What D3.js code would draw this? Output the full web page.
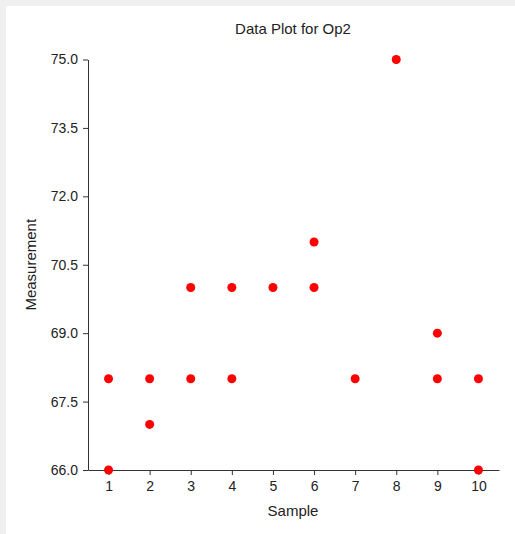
<!DOCTYPE html>
<html>
<head>
<meta charset="utf-8">
<script src="https://cdn.jsdelivr.net/npm/d3@7"></script>
<style>
  body { margin: 0; background: #f0f0f0; }
  svg { display: block; font-family: Arial, "Liberation Sans", sans-serif; }
</style>
</head>
<body>
<div id="chart"></div>
<script>
// samples and measurements (two readings for most samples)
const samples = [1, 1, 2, 2, 3, 3, 4, 4, 5, 6, 6, 7, 8, 9, 9, 10, 10];
const measurements = [68, 66, 68, 67, 70, 68, 70, 68, 70, 71, 70, 68, 75, 69, 68, 68, 66];
const xTicks = [1, 2, 3, 4, 5, 6, 7, 8, 9, 10];
const yTicks = [66.0, 67.5, 69.0, 70.5, 72.0, 73.5, 75.0];

const width = 515, height = 534;

const svg = d3.select("#chart").append("svg")
    .attr("width", width)
    .attr("height", height);

// white panel
svg.append("rect")
    .attr("x", 6).attr("y", 6)
    .attr("width", width - 6).attr("height", height - 6)
    .attr("fill", "#ffffff");

const x = d3.scaleLinear().domain([0.5, 10.5]).range([88, 499]);
const y = d3.scaleLinear().domain([66, 75]).range([470, 59.5]);

// x axis
const xAxis = svg.append("g")
    .attr("transform", "translate(0," + y(66) + ")")
    .call(d3.axisBottom(x).tickValues(xTicks).tickSize(5).tickPadding(6).tickSizeOuter(0));

// y axis
const yAxis = svg.append("g")
    .attr("transform", "translate(" + x(0.5) + ",0)")
    .call(d3.axisLeft(y).tickValues(yTicks).tickFormat(d3.format(".1f")).tickSize(5).tickPadding(5).tickSizeOuter(0));

[xAxis, yAxis].forEach(function(g) {
    g.select(".domain").attr("stroke", "#333333");
    g.selectAll(".tick line").attr("stroke", "#333333");
    g.selectAll(".tick text")
        .attr("fill", "#222222")
        .style("font-size", "14px")
        .style("font-family", "Arial, 'Liberation Sans', sans-serif");
});

// points
svg.append("g")
    .selectAll("circle")
    .data(samples)
    .enter()
    .append("circle")
    .attr("cx", function(d) { return x(d); })
    .attr("cy", function(d, i) { return y(measurements[i]); })
    .attr("r", 4.5)
    .attr("fill", "#ff0000");

// title
svg.append("text")
    .attr("x", 293)
    .attr("y", 34)
    .attr("text-anchor", "middle")
    .attr("fill", "#222222")
    .style("font-size", "15px")
    .text("Data Plot for Op2");

// axis titles
svg.append("text")
    .attr("x", 293)
    .attr("y", 516)
    .attr("text-anchor", "middle")
    .attr("fill", "#222222")
    .style("font-size", "15px")
    .text("Sample");

svg.append("text")
    .attr("transform", "translate(36," + ((y(66) + y(75)) / 2) + ") rotate(-90)")
    .attr("text-anchor", "middle")
    .attr("fill", "#222222")
    .style("font-size", "15px")
    .text("Measurement");
</script>
</body>
</html>
